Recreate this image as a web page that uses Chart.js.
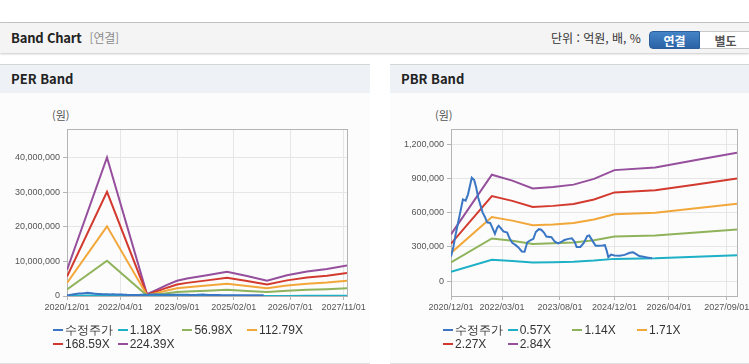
<!DOCTYPE html>
<html lang="ko">
<head>
<meta charset="utf-8">
<title>Band Chart</title>
<script src="https://cdn.jsdelivr.net/npm/chart.js@4/dist/chart.umd.min.js"></script>
<style>
	body{margin:0;width:749px;height:364px;overflow:hidden;background:#fff;position:relative;font-family:"Noto Sans CJK KR","Noto Sans",sans-serif;color:#222}
	.topline{position:absolute;left:0;top:22px;width:749px;height:1px;background:#c6c6c6}
	.head{position:absolute;left:0;top:23px;width:749px;height:30px;background:#f4f4f4;box-shadow:0 1px 2px rgba(0,0,0,.22)}
	.head .title{position:absolute;left:11px;top:0;line-height:30px;font-size:13px;font-weight:bold;letter-spacing:-0.2px}
	.head .title span{font-weight:normal;color:#8c8c8c;font-size:12px;margin-left:8px}
	.head .unit{position:absolute;left:551px;top:0;line-height:30px;font-size:12px;color:#333}
	.btn{position:absolute;top:8px;height:18px;line-height:18px;font-size:12px;font-weight:bold;text-align:center;box-sizing:border-box}
	.btn.on{left:649px;width:51px;background:linear-gradient(#4583c7,#2a63a6);color:#fff;border:1px solid #2b5f9c;border-radius:4px 0 0 4px}
	.btn.off{left:700px;width:52px;background:#fff;color:#555;border:1px solid #c8c8c8;border-left:none}
	.panel{position:absolute;top:64px;height:298px;background:#fcfcfc;border-top:1px solid #d6d6d6;border-bottom:2px solid #e0e0e0;overflow:hidden}
	.panel .ph{height:28px;line-height:28px;background:#eef1f6;padding-left:11px;font-size:13px;font-weight:bold}
	.panel canvas{position:absolute;left:0;top:33px}
	.unitlbl{position:absolute;top:42px;font-size:11px;color:#555}
	.legend{position:absolute;left:0;top:258px;width:370px;height:30px;font-family:"Liberation Sans",Arial,sans-serif;font-size:12px;color:#333}
	.legend .it{position:absolute;height:14px;line-height:14px;white-space:nowrap}
	.legend .it i{display:inline-block;width:10px;height:2px;vertical-align:middle;margin-right:2px;margin-top:-2px}
	.legend .it b{font-weight:normal}
</style>
</head>
<body>
<div class="topline"></div>
<div class="head">
	<div class="title">Band Chart<span>[연결]</span></div>
	<div class="unit">단위 : 억원, 배, %</div>
	<div class="btn on">연결</div>
	<div class="btn off">별도</div>
</div>

<div class="panel" id="perPanel" style="left:0;width:370px">
	<div class="ph">PER Band</div>
	<div class="unitlbl" style="left:52px">(원)</div>
	<canvas id="perChart"></canvas>
	<div class="legend" id="perLegend"></div>
</div>

<div class="panel" id="pbrPanel" style="left:390px;width:359px">
	<div class="ph">PBR Band</div>
	<div class="unitlbl" style="left:45px">(원)</div>
	<canvas id="pbrChart"></canvas>
	<div class="legend" id="pbrLegend"></div>
</div>

<script>
// 수정주가 (같은 종목, 두 차트 공통)
let priceDates = ['2020/12/01','2020/12/22','2021/01/10','2021/02/01','2021/02/22','2021/03/16','2021/04/10','2021/05/01','2021/05/19','2021/06/04',
	'2021/06/25','2021/07/13','2021/08/01','2021/08/19','2021/09/10','2021/10/01','2021/10/19','2021/11/16','2021/12/04','2021/12/28',
	'2022/01/19','2022/02/01','2022/02/19','2022/03/13','2022/04/16','2022/05/07','2022/06/01','2022/07/01','2022/07/25','2022/08/25',
	'2022/09/19','2022/10/13','2022/11/10','2022/12/07','2022/12/28','2023/01/25','2023/02/16','2023/03/10','2023/04/01','2023/05/16',
	'2023/06/16','2023/07/16','2023/08/16','2023/09/10','2023/10/16','2023/11/16','2023/12/10','2023/12/28','2024/02/01','2024/03/01',
	'2024/04/01','2024/04/19','2024/05/16','2024/06/16','2024/07/16','2024/08/16','2024/09/07','2024/09/25','2024/10/07','2024/11/01',
	'2024/12/01','2025/01/16','2025/03/01','2025/04/16','2025/05/16','2025/06/16','2025/07/10','2025/08/16','2025/09/16','2025/11/01'];
let priceValues = [215000,300000,400000,500000,600000,715000,705000,760000,840000,905000,
	885000,820000,730000,670000,600000,560000,515000,510000,470000,415000,
	470000,485000,465000,435000,425000,375000,335000,315000,295000,260000,
	258000,340000,358000,370000,430000,455000,450000,425000,390000,385000,
	345000,330000,345000,360000,370000,375000,345000,300000,300000,335000,
	395000,400000,355000,310000,310000,312000,315000,260000,210000,232000,
	225000,222000,230000,248000,252000,235000,220000,214000,208000,200000];

// PER 밴드
let perDates = ['2020/12/01','2021/12/01','2022/12/01','2023/03/01','2023/06/01','2023/09/01','2023/12/01','2024/06/01',
	'2024/12/01','2025/06/01','2025/12/01','2026/06/01','2026/12/01','2027/06/01','2027/12/01'];
let perLabels = ['1.18X','56.98X','112.79X','168.59X','224.39X'];
let per118 = [39000,210000,3000,9000,17000,23000,27000,32000,37000,31000,23000,32000,37000,41000,46000];
let per5698 = [1900000,10160000,130000,460000,810000,1120000,1280000,1520000,1780000,1470000,1120000,1520000,1800000,1980000,2230000];
let per11279 = [3770000,20110000,250000,900000,1610000,2210000,2540000,3020000,3520000,2920000,2210000,3020000,3570000,3920000,4420000];
let per16859 = [5630000,30050000,380000,1350000,2400000,3310000,3790000,4510000,5260000,4360000,3310000,4510000,5330000,5860000,6610000];
let per22439 = [7500000,40000000,500000,1800000,3200000,4400000,5050000,6000000,7000000,5800000,4400000,6000000,7100000,7800000,8800000];
let perTicksX = ['2020/12/01','2022/04/01','2023/09/01','2025/02/01','2026/07/01','2027/11/01'];
let perTicksY = [0,10000000,20000000,30000000,40000000];

// PBR 밴드
let pbrDates = ['2020/12/01','2021/12/01','2022/06/01','2022/12/01','2023/06/01','2023/12/01','2024/06/01','2024/12/01',
	'2025/12/01','2026/12/01','2027/12/01'];
let pbrLabels = ['0.57X','1.14X','1.71X','2.27X','2.84X'];
let pbr057 = [82000,187000,177000,163000,166000,170000,180000,195000,200000,213000,226000];
let pbr114 = [165000,374000,353000,326000,331000,339000,359000,390000,399000,425000,452000];
let pbr171 = [247000,561000,530000,489000,497000,509000,539000,585000,599000,638000,677000];
let pbr227 = [328000,745000,703000,649000,659000,675000,715000,777000,795000,847000,899000];
let pbr284 = [410000,932000,880000,812000,825000,845000,895000,972000,995000,1060000,1125000];
let pbrTicksX = ['2020/12/01','2022/03/01','2023/08/01','2024/12/01','2026/04/01','2027/09/01'];
let pbrTicksY = [0,300000,600000,900000,1200000];

let colors = ['#3a76c4','#1db0c6','#8fb35a','#f2a73b','#d33a2f','#954f9c'];
let lastMonth = '2027/12/01';

// 날짜 -> 2020/12 기준 개월 수
function toMonth(s){
	let [y,m,d] = s.split('/').map(Number);
	return (y-2020)*12 + (m-12) + (d-1)/30;
}
function toPoints(dates, values){
	return values.map((v,i) => ({x: toMonth(dates[i]), y: v}));
}

// 플롯 영역 테두리
const boxPlugin = {
	id: 'box',
	beforeDatasetsDraw(chart){
		const {ctx, chartArea:a} = chart;
		ctx.save();
		ctx.strokeStyle = '#b4b4b4';
		ctx.lineWidth = 1;
		ctx.strokeRect(Math.round(a.left)+0.5, Math.round(a.top)+0.5, Math.round(a.width), Math.round(a.height));
		ctx.restore();
	}
};

function buildChart(canvasId, legendId, bandDates, bandSets, bandLabels, ticksX, ticksY, yMin, yMax, pad, yWidth){
	let datasets = [{label:'수정주가', data: toPoints(priceDates, priceValues)}];
	bandSets.forEach((vals,i) => datasets.push({label: bandLabels[i], data: toPoints(bandDates, vals)}));
	datasets.forEach((d,i) => {
		d.borderColor = colors[i];
		d.backgroundColor = colors[i];
		d.borderWidth = 2;
		d.pointRadius = 0;
		d.tension = 0;
		d.fill = false;
	});
	// 수정주가가 맨 위에 보이도록
	datasets[0].order = -1;

	let canvas = document.getElementById(canvasId);
	canvas.width = pad.w; canvas.height = pad.h;
	canvas.style.width = pad.w+'px'; canvas.style.height = pad.h+'px';

	let chart = new Chart(canvas.getContext('2d'), {
		type: 'line',
		data: {datasets},
		options: {
			responsive: false,
			animation: false,
			devicePixelRatio: 1,
			layout: {padding: {left: 0, top: pad.top, right: pad.right, bottom: 0}},
			plugins: {legend: {display: false}, tooltip: {enabled: false}},
			scales: {
				x: {
					type: 'linear',
					min: 0,
					max: toMonth(lastMonth),
					afterBuildTicks: s => { s.ticks = ticksX.map(t => ({value: toMonth(t)})); },
					afterFit: s => { s.height = pad.xh; },
					ticks: {
						autoSkip: false, maxRotation: 0, padding: 2,
						color: '#555', font: {family: '"Liberation Sans", Arial', size: 9},
						callback: (v,i) => ticksX[i]
					},
					grid: {color: '#e6e6e6', tickColor: '#b4b4b4', tickLength: 4},
					border: {color: '#b4b4b4'}
				},
				y: {
					type: 'linear',
					min: yMin,
					max: yMax,
					afterBuildTicks: s => { s.ticks = ticksY.map(v => ({value: v})); },
					afterFit: s => { s.width = yWidth; },
					ticks: {
						padding: 3,
						color: '#555', font: {family: '"Liberation Sans", Arial', size: 9},
						callback: v => v.toLocaleString('en-US')
					},
					grid: {color: '#e6e6e6', tickColor: '#b4b4b4', tickLength: 4},
					border: {color: '#b4b4b4'}
				}
			}
		},
		plugins: [boxPlugin]
	});

	// 범례 (4열 고정 배치)
	let legend = document.getElementById(legendId);
	legend.innerHTML = chart.data.datasets.map((d,i) =>
		`<div class="it" style="left:${53 + (i%4)*64.7}px;top:${Math.floor(i/4)*14}px"><i style="background:${d.borderColor}"></i><b>${d.label}</b></div>`
	).join('');
	return chart;
}

let perChart = buildChart('perChart','perLegend', perDates,
	[per118, per5698, per11279, per16859, per22439], perLabels,
	perTicksX, perTicksY, 0, 48200000,
	{w: 370, h: 230, top: 31, right: 23, xh: 32}, 67);

let pbrChart = buildChart('pbrChart','pbrLegend', pbrDates,
	[pbr057, pbr114, pbr171, pbr227, pbr284], pbrLabels,
	pbrTicksX, pbrTicksY, -130000, 1332000,
	{w: 390, h: 230, top: 31, right: 43, xh: 32}, 61);
</script>
</body>
</html>
